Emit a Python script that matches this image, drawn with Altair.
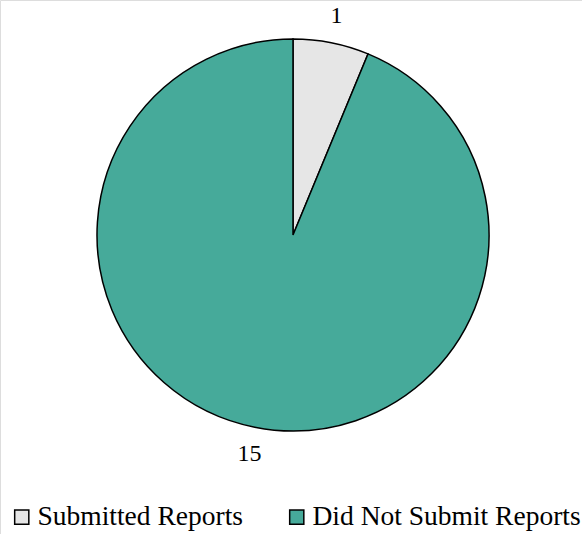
import altair as alt
import pandas as pd

categories = ["Submitted Reports", "Did Not Submit Reports"]
values = [1, 15]
colors = ["#e6e6e6", "#46aa9a"]

df = pd.DataFrame({"category": categories, "value": values, "order": [0, 1]})

CX, CY, R = 293, 235, 196

base = alt.Chart(df).encode(
    theta=alt.Theta("value:Q", stack=True),
    order=alt.Order("order:Q"),
)

pie = base.mark_arc(
    outerRadius=R, stroke="black", strokeWidth=1.5
).encode(
    x=alt.value(CX),
    y=alt.value(CY),
    color=alt.Color(
        "category:N",
        scale=alt.Scale(domain=categories, range=colors),
        sort=categories,
        legend=alt.Legend(
            title=None,
            orient="none",
            direction="horizontal",
            legendX=8,
            legendY=503,
            symbolType="square",
            symbolSize=200,
            symbolStrokeColor="black",
            symbolStrokeWidth=1.5,
            symbolOpacity=1,
            labelFont="Liberation Serif",
            labelFontSize=27.5,
            labelColor="black",
            labelOffset=2,
            columnPadding=40,
            labelLimit=400,
        ),
    ),
)

labels = base.mark_text(
    radius=223, font="Liberation Serif", fontSize=24, color="black",
    baseline="middle", align="center"
).encode(
    x=alt.value(CX),
    y=alt.value(CY),
    text=alt.Text("value:Q"),
)

chart = alt.layer(pie, labels).properties(
    width=582, height=534, autosize=alt.AutoSizeParams(type="none"), padding=0
).configure_view(stroke=None).configure(background="white")

chart.save("out.html", embed_options={"renderer": "svg", "actions": False})
